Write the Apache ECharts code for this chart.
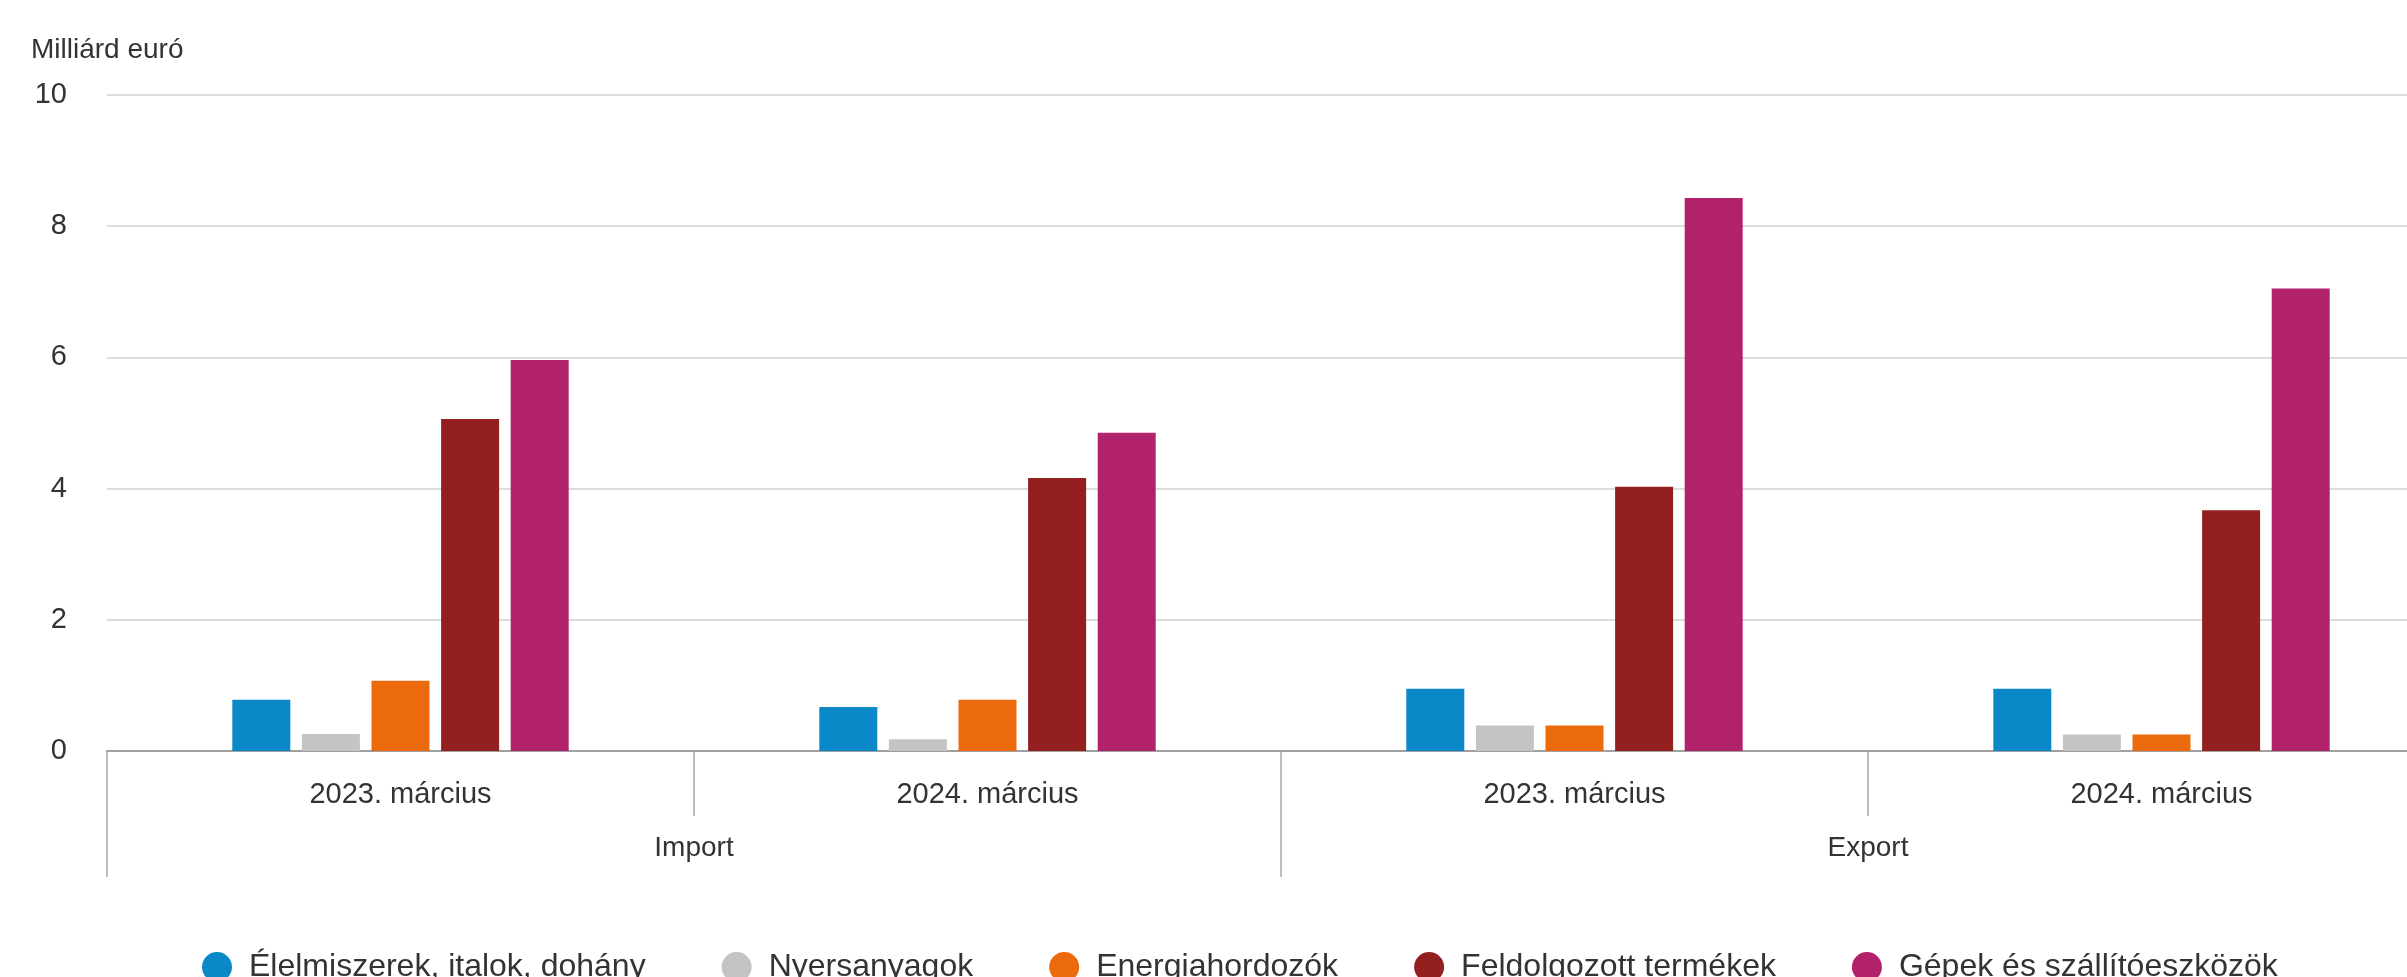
<!DOCTYPE html>
<html>
<head>
<meta charset="utf-8">
<script src="https://cdn.jsdelivr.net/npm/echarts@6/dist/echarts.min.js"></script>
<style>
html,body{margin:0;padding:0;background:#fff;overflow:hidden;width:2407px;height:977px;}
#chart{width:2455px;height:977px;}
</style>
</head>
<body>
<div id="chart"></div>
<script>
const periods = ['2023. március', '2024. március', '2023. március', '2024. március'];
const flows = ['Import', 'Export'];
const seriesNames = ['Élelmiszerek, italok, dohány', 'Nyersanyagok', 'Energiahordozók', 'Feldolgozott termékek', 'Gépek és szállítóeszközök'];
const elelmiszerek = [0.78, 0.67, 0.95, 0.95];
const nyersanyagok = [0.26, 0.18, 0.39, 0.25];
const energiahordozok = [1.07, 0.78, 0.39, 0.25];
const feldolgozott = [5.06, 4.16, 4.03, 3.67];
const gepek = [5.96, 4.85, 8.43, 7.05];
const yTicks = [0, 2, 4, 6, 8, 10];
const colors = ['#0b88c8', '#c4c4c4', '#eb6a0c', '#93201f', '#b2226b'];

const font = '"Liberation Sans", Arial, sans-serif';
const values = [elelmiszerek, nyersanyagok, energiahordozok, feldolgozott, gepek];

const chart = echarts.init(document.getElementById('chart'), null, {renderer: 'canvas'});
chart.setOption({
  animation: false,
  backgroundColor: '#ffffff',
  textStyle: {fontFamily: font},
  title: {
    text: 'Milliárd euró',
    left: 26, top: 31,
    textStyle: {fontFamily: font, fontSize: 28, fontWeight: 'normal', color: '#333'}
  },
  legend: {
    data: seriesNames,
    left: 197, top: 946,
    icon: 'circle',
    itemWidth: 30, itemHeight: 30,
    itemGap: 76,
    textStyle: {fontFamily: font, fontSize: 32, color: '#333', padding: [0, 0, 0, 12]}
  },
  grid: {left: 107, right: 0, top: 95, bottom: 226, containLabel: false},
  xAxis: [
    {
      type: 'category',
      data: periods,
      position: 'bottom',
      axisLine: {show: true, lineStyle: {color: '#a0a0a0', width: 2}},
      axisTick: {show: true, length: 65, lineStyle: {color: '#a8a8a8', width: 1.5}},
      axisLabel: {fontFamily: font, fontSize: 29, color: '#333', margin: 29}
    },
    {
      type: 'category',
      data: flows,
      position: 'bottom',
      axisLine: {show: false},
      axisTick: {show: true, length: 126, lineStyle: {color: '#a8a8a8', width: 1.5}},
      axisLabel: {fontFamily: font, fontSize: 28, color: '#333', margin: 83},
      splitLine: {show: false}
    }
  ],
  yAxis: {
    type: 'value',
    min: yTicks[0], max: yTicks[yTicks.length - 1], interval: 2,
    axisLine: {show: false},
    axisTick: {show: false},
    axisLabel: {fontFamily: font, fontSize: 29, color: '#333', margin: 40},
    splitLine: {lineStyle: {color: '#dcdcdc', width: 2}}
  },
  series: seriesNames.map((name, i) => ({
    name: name,
    type: 'bar',
    xAxisIndex: 0,
    data: values[i],
    barWidth: 58,
    barGap: '20%',
    itemStyle: {color: colors[i]}
  }))
});
</script>
</body>
</html>
